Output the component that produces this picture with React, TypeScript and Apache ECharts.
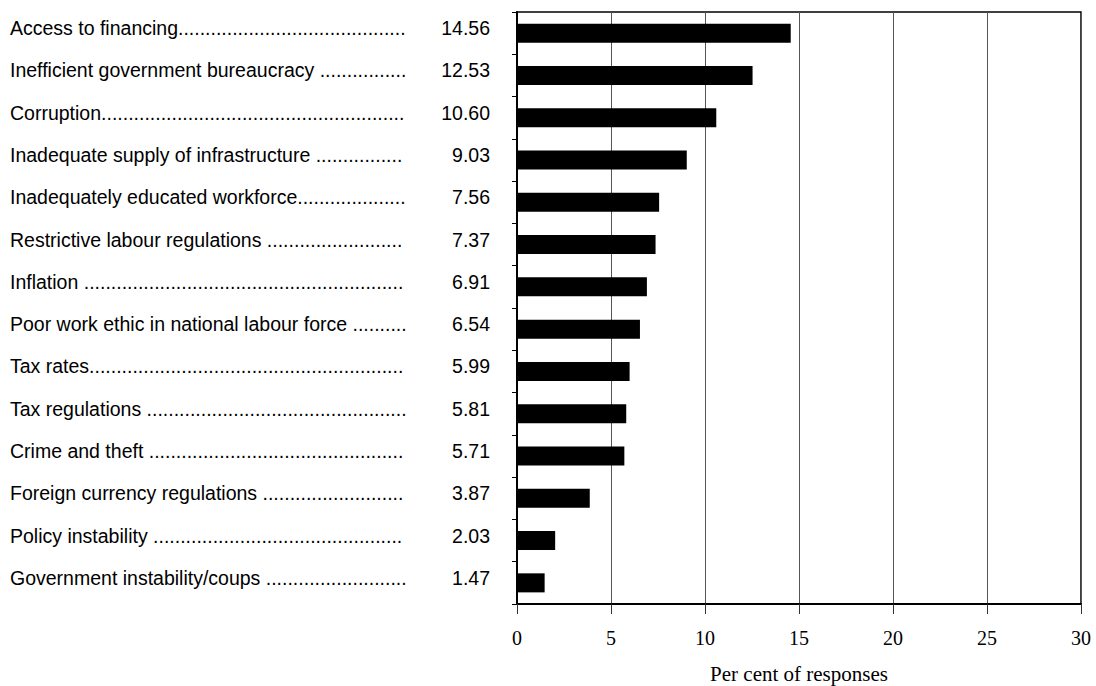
import React, { useEffect, useRef } from "react";
import * as echarts from "echarts";

const categories = [
  "Access to financing",
  "Inefficient government bureaucracy ",
  "Corruption",
  "Inadequate supply of infrastructure ",
  "Inadequately educated workforce",
  "Restrictive labour regulations ",
  "Inflation ",
  "Poor work ethic in national labour force ",
  "Tax rates",
  "Tax regulations ",
  "Crime and theft ",
  "Foreign currency regulations ",
  "Policy instability ",
  "Government instability/coups ",
];
const values = [14.56, 12.53, 10.6, 9.03, 7.56, 7.37, 6.91, 6.54, 5.99, 5.81, 5.71, 3.87, 2.03, 1.47];
const valueLabels = ["14.56", "12.53", "10.60", "9.03", "7.56", "7.37", "6.91", "6.54", "5.99", "5.81", "5.71", "3.87", "2.03", "1.47"];
const xTicks = [0, 5, 10, 15, 20, 25, 30];
const xTitle = "Per cent of responses";

export default function App() {
  const ref = useRef<HTMLDivElement>(null);
  useEffect(() => {
    if (!ref.current) return;
    const chart = echarts.init(ref.current, null, { renderer: "svg" });
    const dots = ".".repeat(200);
    chart.setOption({
      animation: false,
      grid: {
        left: 517,
        right: 15,
        top: 12,
        bottom: 82,
        show: true,
        borderColor: "#000",
        borderWidth: 1.5,
        containLabel: false,
        outerBoundsMode: "none",
      },
      xAxis: {
        type: "value",
        min: xTicks[0],
        max: xTicks[xTicks.length - 1],
        interval: 5,
        name: xTitle,
        nameLocation: "middle",
        nameGap: 59,
        nameTextStyle: { fontFamily: "Liberation Serif", fontSize: 21, color: "#000" },
        axisLine: { show: true, lineStyle: { color: "#000", width: 2 } },
        axisTick: { show: true, length: 10, lineStyle: { color: "#333", width: 1 } },
        axisLabel: { fontFamily: "Liberation Serif", fontSize: 20, color: "#000", margin: 24 },
        splitLine: { show: true, lineStyle: { color: "#555", width: 1 } },
      },
      yAxis: [
        {
          type: "category",
          data: categories,
          inverse: true,
          axisLine: { show: true, lineStyle: { color: "#000", width: 2 } },
          axisTick: { show: true, length: 5, lineStyle: { color: "#000" } },
          axisLabel: {
            fontFamily: "Liberation Sans",
            fontSize: 19.5,
            color: "#000",
            align: "left",
            verticalAlign: "bottom",
            lineHeight: 10,
            margin: 507,
            width: 398,
            overflow: "truncate",
            ellipsis: "",
            formatter: (v: string) => v + dots,
          },
        },
        {
          type: "category",
          data: valueLabels,
          inverse: true,
          position: "left",
          axisLine: { show: false },
          axisTick: { show: false },
          axisLabel: {
            fontFamily: "Liberation Sans",
            fontSize: 19.5,
            color: "#000",
            align: "right",
            verticalAlign: "bottom",
            lineHeight: 10,
            margin: 27,
          },
        },
      ],
      series: [
        {
          type: "bar",
          data: values,
          yAxisIndex: 0,
          barWidth: "45%",
          itemStyle: { color: "#000" },
        },
      ],
    });
    return () => chart.dispose();
  }, []);
  return (
    <div
      ref={ref}
      style={{ position: "fixed", left: 0, top: 0, width: 1096, height: 686, background: "#fff" }}
    />
  );
}
